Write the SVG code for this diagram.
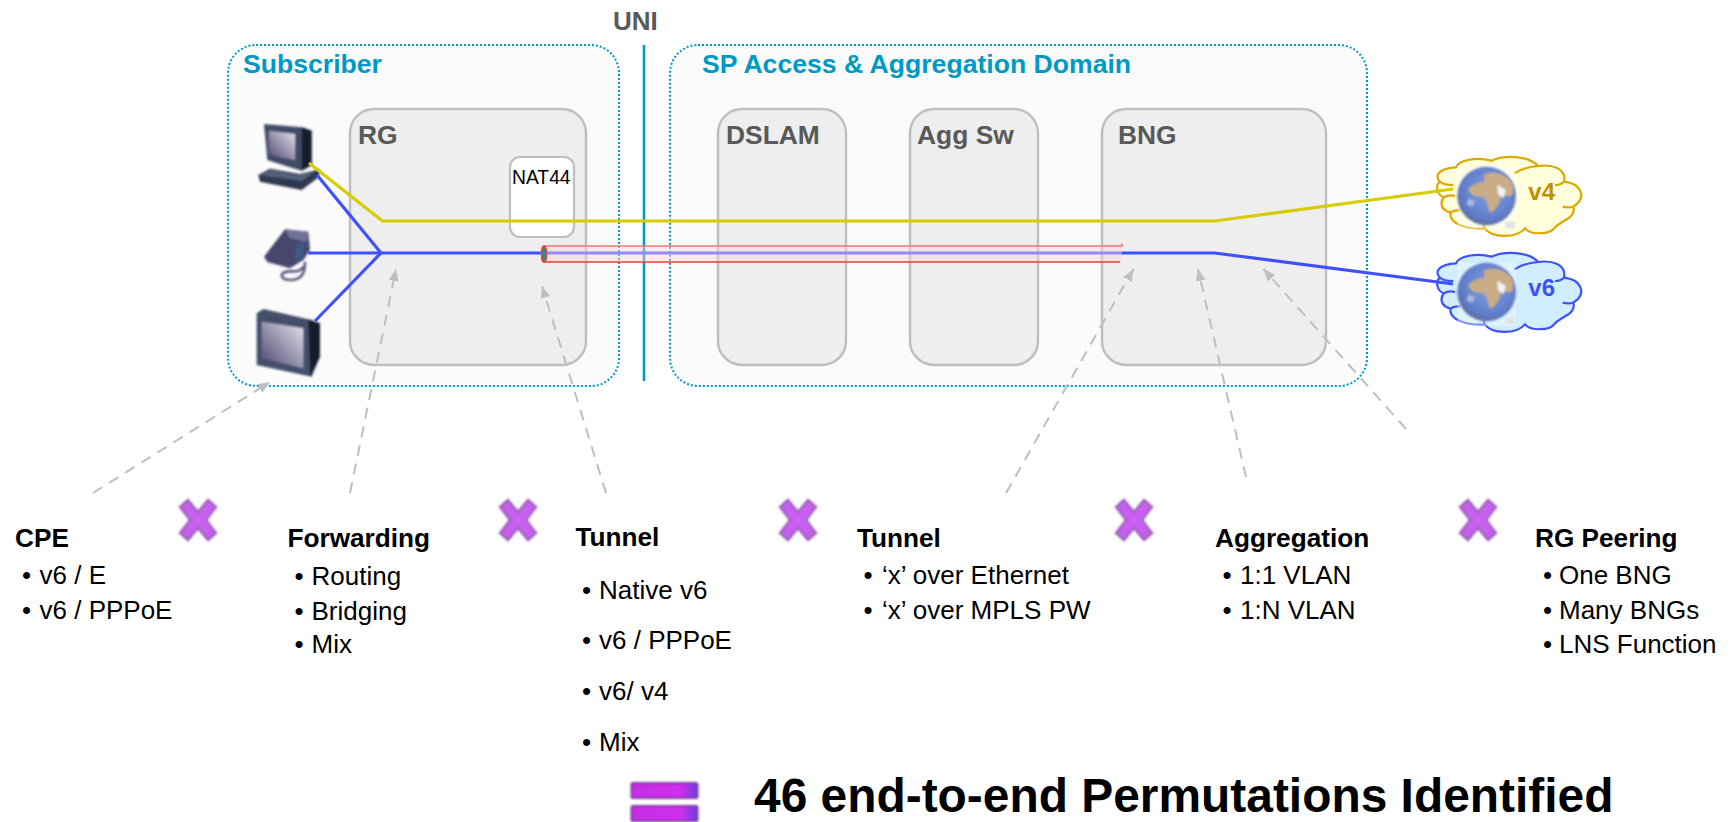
<svg xmlns="http://www.w3.org/2000/svg" width="1733" height="822" viewBox="0 0 1733 822">
<style>
text{font-family:"Liberation Sans",Arial,sans-serif}
.dom{fill:#fbfbfb;stroke:#0099c6;stroke-width:2;stroke-dasharray:2 2}
.dev{fill:#eeeeee;stroke:#bfbfbf;stroke-width:2.5}
.domt{font-size:26.6px;font-weight:700;fill:#0099c6}
.devt{font-size:26.4px;font-weight:700;fill:#595959}
.h{font-size:26.2px;font-weight:700;fill:#000}
.b{font-size:26px;fill:#000}
.y{fill:none;stroke:#d6cc00;stroke-width:3.2;stroke-linejoin:round}
.u{fill:none;stroke:#3f51ff;stroke-width:3.2;stroke-linejoin:round}
.d{fill:none;stroke:#bfbfbf;stroke-width:2;stroke-dasharray:11 8;marker-end:url(#ah)}
.globeclip{fill:url(#sea)}
.x{fill:#c95ff0;stroke:#9b62bb;stroke-width:2.4;filter:url(#b1)}
</style>
<defs>
<marker id="ah" markerUnits="userSpaceOnUse" markerWidth="14" markerHeight="12" refX="12" refY="5" orient="auto"><path d="M0 0L12 5L0 10Z" fill="#bfbfbf"/></marker>
<filter id="b1" x="-20%" y="-20%" width="140%" height="140%"><feGaussianBlur stdDeviation="1.2"/></filter>
<filter id="b2" x="-20%" y="-20%" width="140%" height="140%"><feGaussianBlur stdDeviation="2.6"/></filter>
<linearGradient id="scr" x1="0" y1="1" x2="1" y2="0"><stop offset="0" stop-color="#4a4670"/><stop offset="1" stop-color="#e8e4ec"/></linearGradient>
<radialGradient id="sea" cx="0.55" cy="0.42" r="0.62"><stop offset="0" stop-color="#86a0e6"/><stop offset="0.75" stop-color="#5f7dca"/><stop offset="1" stop-color="#5a6a92"/></radialGradient>
<linearGradient id="eq" x1="0" y1="0" x2="1" y2="0"><stop offset="0" stop-color="#c52fe8"/><stop offset="0.75" stop-color="#d02fee"/><stop offset="1" stop-color="#6a3fe0"/></linearGradient>
<path id="mult" d="M-18 -13L-10 -20L0 -8L10 -20L18 -13L8 0L18 13L10 20L0 8L-10 20L-18 13L-8 0Z"/>
<path id="cloud" d="M60 125C40 105 60 85 108 82C115 60 170 50 215 62C250 45 325 45 355 78C395 72 440 85 432 125C480 130 505 170 460 200C470 235 425 240 405 262C390 285 330 285 315 265C290 295 215 295 195 265C140 270 85 250 92 218C60 210 60 185 72 172C50 165 45 135 60 125Z"/>
<path id="cloudin" d="M283 100C305 85 335 80 355 78M432 125C425 132 415 135 405 135M460 200C450 203 440 203 428 200M60 125C70 135 85 135 100 135M72 172C82 165 92 165 105 168M92 218C100 212 110 210 120 212M195 265C190 258 190 252 192 245"/>
<g id="globe">
<rect x="112" y="80" width="176" height="190" fill="#ffffff" opacity="0.35"/>
<circle cx="200" cy="168" r="88" class="globeclip" filter="url(#b2)"/>
<g filter="url(#b2)">
<path d="M145 150C155 130 180 125 195 125L190 105C210 92 250 95 275 125C285 150 280 165 270 170L245 165C240 190 225 215 210 218C200 200 205 175 185 170C165 172 150 165 145 150Z" fill="#c9ab86"/>
<path d="M232 135L258 150L250 175L234 162Z" fill="#f2f4fa"/>
<path d="M145 175L165 182L158 200L140 195Z" fill="#a9b8dc"/>
<path d="M255 245L285 245L285 265L255 265Z" fill="#dfe4e2"/>
</g>
</g>
</defs>

<g id="subscriber"><rect class="dom" x="228" y="45" width="391" height="341" rx="28" ry="28"/><text class="domt" x="243" y="73">Subscriber</text></g>
<g id="sp-domain"><rect class="dom" x="670" y="45" width="697" height="341" rx="28" ry="28"/><text class="domt" x="702" y="73">SP Access &amp; Aggregation Domain</text></g>
<g id="uni"><text x="613" y="30" font-size="26" font-weight="700" fill="#595959">UNI</text><line x1="644" y1="45" x2="644" y2="381" stroke="#0099c6" stroke-width="2.6"/></g>
<g id="rg"><rect class="dev" x="350" y="109" width="236" height="256" rx="24"/><text class="devt" x="358" y="144">RG</text></g>
<g id="nat44"><rect x="510" y="157" width="64" height="80" rx="10" fill="#fff" stroke="#bfbfbf" stroke-width="2.2"/><text x="512" y="184" font-size="19.3" fill="#000">NAT44</text></g>
<g id="dslam"><rect class="dev" x="718" y="109" width="128" height="256" rx="24"/><text class="devt" x="726" y="144">DSLAM</text></g>
<g id="agg-sw"><rect class="dev" x="910" y="109" width="128" height="256" rx="24"/><text class="devt" x="917" y="144">Agg Sw</text></g>
<g id="bng"><rect class="dev" x="1102" y="109" width="224" height="256" rx="24"/><text class="devt" x="1118" y="144">BNG</text></g>

<g id="cloud-v4" transform="translate(1420 140) scale(.33333)">
<use href="#cloud" fill="#ffffdc" stroke="#dca800" stroke-width="6.5"/><use href="#cloudin" fill="none" stroke="#dca800" stroke-width="6.5"/><use href="#globe"/>
<text x="325" y="180" font-size="72" font-weight="700" fill="#bf8f00">v4</text></g>
<g id="cloud-v6" transform="translate(1420 236) scale(.33333)">
<use href="#cloud" fill="#d0eeff" stroke="#3f51ff" stroke-width="6.5"/><use href="#cloudin" fill="none" stroke="#3f51ff" stroke-width="6.5"/><use href="#globe"/>
<text x="325" y="180" font-size="72" font-weight="700" fill="#3f51ff">v6</text></g>

<g id="pc" transform="translate(240 110) scale(.33333)"><g filter="url(#b2)">
<path d="M55 195L90 176L180 192L240 178L236 202L185 240L60 215Z" fill="#2e3750"/>
<path d="M62 196L92 180L178 196L225 184L185 212Z" fill="#56607c"/>
<path d="M72 42L185 52L215 62L215 165L185 182L150 172L82 150Z" fill="#404b68"/>
<path d="M185 52L215 62L215 165L185 182Z" fill="#141c2c"/>
<path d="M86 62L165 72L165 150L86 134Z" fill="url(#scr)"/></g></g>
<g id="phone" transform="translate(240 110) scale(.33333)"><g filter="url(#b2)">
<path d="M72 440L135 358L205 365L210 420L190 450L150 475L82 456Z" fill="#47466e"/>
<path d="M135 358L205 365L200 395L150 385Z" fill="#6f7396"/>
<path d="M170 400L195 395L185 445L165 450Z" fill="#3c5a86"/>
<path d="M195 455C195 490 185 510 150 510C125 510 115 490 140 485C160 482 180 490 190 470" fill="none" stroke="#5a5a80" stroke-width="8"/></g></g>
<g id="monitor" transform="translate(240 110) scale(.33333)"><g filter="url(#b2)">
<path d="M50 610L70 597L215 630L240 640L240 740L215 800L50 765Z" fill="#44506c"/>
<path d="M205 630L240 640L240 740L210 800Z" fill="#141c2c"/>
<path d="M65 635L190 655L190 775L65 745Z" fill="url(#scr)"/></g></g>

<g id="connectors">
<path id="tube" d="M543 246H1122V262H543Z" fill="#fbd0d0" fill-opacity="0.45"/>
<path d="M543 246H1122V243.5" fill="none" stroke="#ea7a6c" stroke-width="1.6"/>
<path d="M543 262H1120" fill="none" stroke="#e8432e" stroke-width="1.6"/>
<polyline class="y" points="309,163 382.5,221 1214.5,221 1453,189"/>
<polyline class="u" points="317,175 381,253 308,253"/>
<polyline class="u" points="315,321 381,253 543,253"/>
<line x1="543" y1="253" x2="1122" y2="253" stroke="#8f8cf5" stroke-width="3.2"/>
<polyline class="u" points="1122,253 1214.5,253 1453,284"/>
<ellipse cx="544" cy="254" rx="2.5" ry="8" fill="#1d8fa8" stroke="#e8432e" stroke-width="1.6"/>
<line class="d" x1="93" y1="493" x2="270" y2="382"/>
<line class="d" x1="350" y1="493" x2="396" y2="269"/>
<line class="d" x1="606" y1="493" x2="542" y2="286"/>
<line class="d" x1="1006" y1="493" x2="1133.5" y2="269"/>
<line class="d" x1="1246" y1="477" x2="1198" y2="269"/>
<line class="d" x1="1406" y1="429" x2="1263.5" y2="269"/>
</g>

<g id="times"><use href="#mult" class="x" x="198" y="520"/><use href="#mult" class="x" x="518" y="520"/><use href="#mult" class="x" x="798" y="520"/><use href="#mult" class="x" x="1134" y="520"/><use href="#mult" class="x" x="1478" y="520"/></g>

<g id="cpe"><text class="h" x="15" y="547">CPE</text><text class="b" x="22" y="584">•<tspan x="39.5">v6 / E</tspan></text><text class="b" x="22" y="619">•<tspan x="39.5">v6 / PPPoE</tspan></text></g>
<g id="forwarding"><text class="h" x="287.5" y="547">Forwarding</text><text class="b" x="294.5" y="585">•<tspan x="311.5">Routing</tspan></text><text class="b" x="294.5" y="620">•<tspan x="311.5">Bridging</tspan></text><text class="b" x="294.5" y="653">•<tspan x="311.5">Mix</tspan></text></g>
<g id="tunnel-a"><text class="h" x="575.5" y="546">Tunnel</text><text class="b" x="582" y="599">•<tspan x="599">Native v6</tspan></text><text class="b" x="582" y="649">•<tspan x="599">v6 / PPPoE</tspan></text><text class="b" x="582" y="700">•<tspan x="599">v6/ v4</tspan></text><text class="b" x="582" y="751">•<tspan x="599">Mix</tspan></text></g>
<g id="tunnel-b"><text class="h" x="857" y="547">Tunnel</text><text class="b" x="863.5" y="584">•<tspan x="882">‘x’ over Ethernet</tspan></text><text class="b" x="863.5" y="619">•<tspan x="882">‘x’ over MPLS PW</tspan></text></g>
<g id="aggregation"><text class="h" x="1215" y="547">Aggregation</text><text class="b" x="1222.5" y="584">•<tspan x="1240">1:1 VLAN</tspan></text><text class="b" x="1222.5" y="619">•<tspan x="1240">1:N VLAN</tspan></text></g>
<g id="rg-peering"><text class="h" x="1535" y="547">RG Peering</text><text class="b" x="1543" y="584">•<tspan x="1559">One BNG</tspan></text><text class="b" x="1543" y="619">•<tspan x="1559">Many BNGs</tspan></text><text class="b" x="1543" y="653">•<tspan x="1559">LNS Function</tspan></text></g>

<g id="equals"><rect x="631.5" y="783" width="66" height="15" rx="1.5" fill="url(#eq)" stroke="#7c3a9c" stroke-width="2" filter="url(#b1)"/><rect x="631.5" y="806" width="66" height="15" rx="1.5" fill="url(#eq)" stroke="#7c3a9c" stroke-width="2" filter="url(#b1)"/></g>
<text id="result" x="754" y="811.5" font-size="47.9" font-weight="700" fill="#000">46 end-to-end Permutations Identified</text>
</svg>
